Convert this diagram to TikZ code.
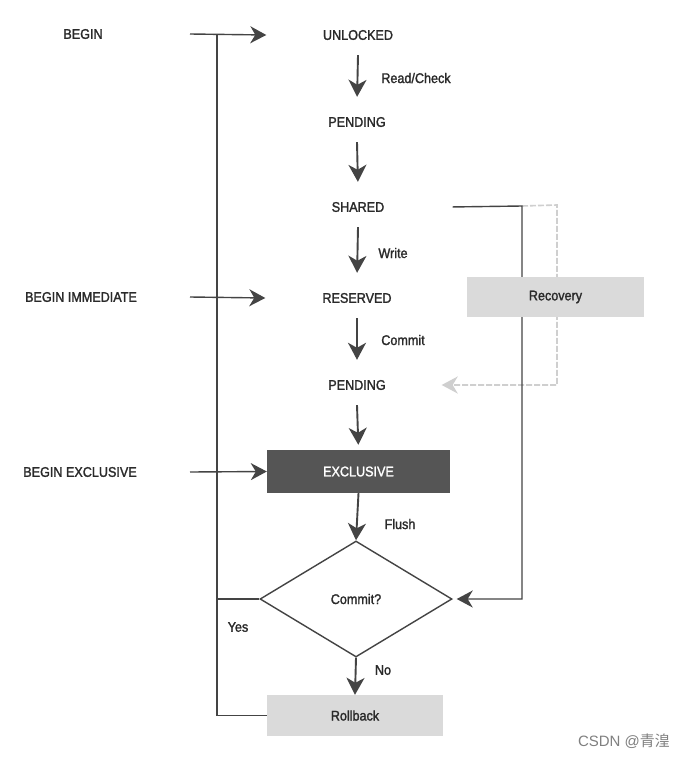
\documentclass[tikz,border=0pt]{standalone}
\usepackage{fontspec}
\setmainfont{Liberation Sans}[FakeStretch=0.9, FakeBold=1.6]
\newfontfamily\wmfont{Liberation Sans}
\newfontfamily\cjk{Noto Sans CJK SC}
\usetikzlibrary{arrows.meta,shapes.geometric}
\definecolor{txt}{HTML}{2A2A2A}
\definecolor{ln}{HTML}{444444}
\definecolor{exfill}{HTML}{555555}
\definecolor{boxfill}{HTML}{DADADA}
\definecolor{faint}{HTML}{CFCFCF}
\begin{document}
\begin{tikzpicture}[x=1pt,y=-1pt,
  every node/.style={font=\fontsize{14}{16}\selectfont, text=txt, inner sep=0pt},
  state/.style={minimum width=183, minimum height=40},
  lbl/.style={anchor=center},
  arr/.style={draw=ln, line width=1.9, -{Stealth[length=17pt,width=18pt,inset=5pt]}},
  con/.style={draw=ln, line width=1.4},
  conarr/.style={draw=ln, line width=1.4, -{Stealth[length=16pt,width=17pt,inset=5pt]}},
  graybox/.style={fill=boxfill, minimum height=41},
]
\useasboundingbox (0,0) rectangle (695,760);
\fill[white] (0,0) rectangle (695,760);

% left labels
\node[lbl] (lb1) at (83,34) {BEGIN};
\node[lbl] (lb2) at (81,297) {BEGIN IMMEDIATE};
\node[lbl] (lb3) at (80,472) {BEGIN EXCLUSIVE};

% states
\node[state] (unlocked) at (358,35) {UNLOCKED};
\node[state] (pend1) at (357,122) {PENDING};
\node[state] (shared) at (358,207) {SHARED};
\node[state] (reserved) at (357,298) {RESERVED};
\node[state] (pend2) at (357,385) {PENDING};
\node[state, fill=exfill, text=white, minimum height=43] (excl) at (358.5,471.5) {EXCLUSIVE};
\node[diamond, draw=ln, line width=1.4, minimum width=192, minimum height=116, aspect=1.65] (dia) at (356,599) {Commit?};
\node[graybox, minimum width=176] (rollback) at (355,715.5) {Rollback};

% coordinates
\coordinate (s1) at (190,34);
\coordinate (s2) at (190,297);
\coordinate (s3) at (190,472);
\coordinate (jtop) at (217,34);
\coordinate (rc) at (522,206);
\coordinate (fc) at (557,205);

% edge labels
\node[lbl] (l1) at (416,78) {Read/Check};
\node[lbl] (l2) at (393,253) {Write};
\node[lbl] (l3) at (403,340) {Commit};
\node[lbl] (l4) at (400,524) {Flush};
\node[lbl] (l5) at (238,627) {Yes};
\node[lbl] (l6) at (383,670) {No};

% faint recovery path
\draw[faint, line width=1.6, dash pattern=on 6pt off 2pt, -{Stealth[length=16pt,width=17pt,inset=5pt]}, shorten >=-7]
  (rc) -- (fc) |- (pend2.east);

% left loop line
\draw[con] (rollback.west) -| (jtop);
\draw[con] (dia.west) -- (dia.west -| jtop);

% begin arrows
\draw[conarr] (s1) -- (unlocked.west);
\draw[conarr] (s2) -- (reserved.west);
\draw[conarr] (s3) -- (excl.west);

% vertical arrows
\draw[arr, shorten >=5] (unlocked.south) -- (pend1.north);
\draw[arr, shorten >=5] (pend1.south) -- (shared.north);
\draw[arr, shorten >=5] (shared.south) -- (reserved.north);
\draw[arr, shorten >=5] (reserved.south) -- (pend2.north);
\draw[arr, shorten >=5] (pend2.south) -- (excl.north);
\draw[arr] (excl.south) -- (dia.north);
\draw[arr] (dia.south) -- (rollback.north);

% recovery line
\draw[conarr, shorten <=3, shorten >=4] (shared.east) -- (rc) |- (dia.east);

% recovery box on top
\node[graybox, minimum width=177, minimum height=40] (recovery) at (555.5,297) {Recovery};

% watermark
\node[text=gray, font=\wmfont\fontsize{15}{17}\selectfont] (wm) at (624,741) {CSDN @{\cjk 青湟}};
\end{tikzpicture}
\end{document}
